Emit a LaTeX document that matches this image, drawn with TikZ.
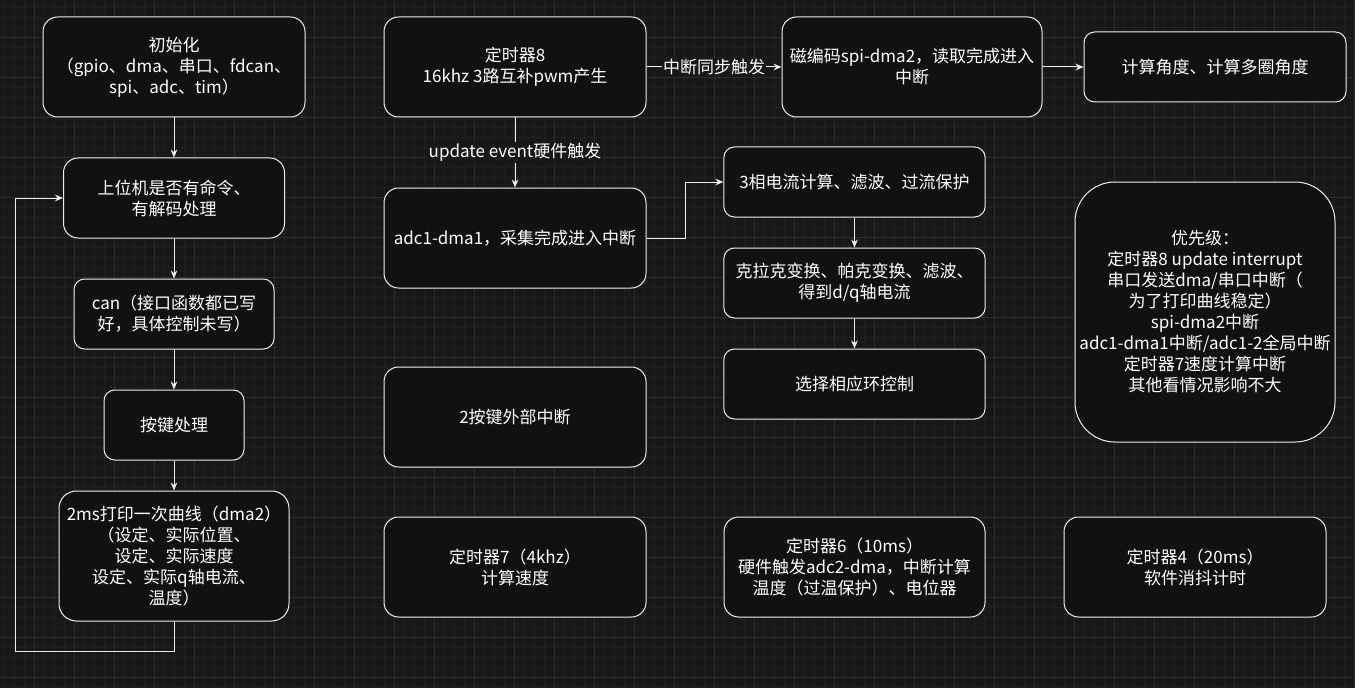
\documentclass[tikz,border=0pt]{standalone}
\usepackage{fontspec}
\setmainfont{Noto Sans CJK SC}
\usetikzlibrary{arrows.meta,positioning}

\definecolor{canvas}{HTML}{181818}
\definecolor{boxbg}{HTML}{111111}
\definecolor{gridmin}{HTML}{1F1F1F}
\definecolor{gridmaj}{HTML}{2D2D2D}
\definecolor{edge}{HTML}{EEEEEE}

\begin{document}
\begin{tikzpicture}[
        x=0.75pt, y=-0.75pt,
        every node/.style = {font=\fontsize{12.75}{15.75}\selectfont, text=white},
        box/.style = {draw=edge, fill=boxbg, line width=0.75pt, rounded corners=11pt, align=center, inner sep=1pt},
        big/.style = {box, minimum width=196.5pt, minimum height=75pt},
        flat/.style = {box, minimum width=196pt, minimum height=52.5pt, rounded corners=8pt},
        arr/.style = {draw=edge, line width=0.75pt, -{Stealth[length=6pt,width=5pt]}},
        lbl/.style = {fill=canvas, inner sep=1pt}
    ]
    % canvas and grid
    \useasboundingbox (0,0) rectangle (1355,688);
    \fill[canvas] (0,0) rectangle (1355,688);
    \foreach \x in {4,14,...,1354} \draw[gridmin, line width=0.5pt] (\x,0) -- (\x,688);
    \foreach \y in {7,17,...,687} \draw[gridmin, line width=0.5pt] (0,\y) -- (1355,\y);
    \foreach \x in {34,74,...,1354} \draw[gridmaj, line width=0.6pt] (\x,0) -- (\x,688);
    \foreach \y in {37,77,...,677} \draw[gridmaj, line width=0.6pt] (0,\y) -- (1355,\y);

    % main loop
    \node[big] (init) at (174,67) {初始化\\（gpio、dma、串口、fdcan、\\spi、adc、tim）};
    \node[box, minimum width=165.75pt, minimum height=60pt, below=30pt of init] (host) {上位机是否有命令、\\有解码处理};
    \node[box, minimum width=150pt, minimum height=52.5pt, rounded corners=8pt, below=30pt of host] (can) {can（接口函数都已写\\好，具体控制未写）};
    \node[box, minimum width=105pt, minimum height=52.5pt, rounded corners=8pt, below=30pt of can] (key) {按键处理};
    \node[box, minimum width=172.5pt, minimum height=97.5pt, rounded corners=13pt, below=22.5pt of key] (curve) {2ms打印一次曲线（dma2）\\（设定、实际位置、\\设定、实际速度\\设定、实际q轴电流、\\温度）};

    % interrupts
    \node[big] (tim8) at (515,67) {定时器8\\16khz 3路互补pwm产生};
    \node[big, below=52.5pt of tim8] (adc) {adc1-dma1，采集完成进入中断};
    \node[big, minimum width=195pt] (enc) at (912,67) {磁编码spi-dma2，读取完成进入\\中断};
    \node[flat, minimum width=196.5pt] (angle) at (1215,67) {计算角度、计算多圈角度};
    \node[flat] (phase) at (854.5,182) {3相电流计算、滤波、过流保护};
    \node[flat, below=22.5pt of phase] (clarke) {克拉克变换、帕克变换、滤波、\\得到d/q轴电流};
    \node[flat, below=22.5pt of clarke] (select) {选择相应环控制};
    \node[box, minimum width=195pt, minimum height=195pt, rounded corners=30pt] (prio) at (1205,312) {优先级：\\定时器8 update interrupt\\串口发送dma/串口中断（\\为了打印曲线稳定）\\spi-dma2中断\\adc1-dma1中断/adc1-2全局中断\\定时器7速度计算中断\\其他看情况影响不大};
    \node[big] (key2) at (515,417) {2按键外部中断};

    % timers
    \node[big] (tim7) at (515,567) {定时器7（4khz）\\计算速度};
    \node[big, minimum width=195.75pt] (tim6) at (854.5,567) {定时器6（10ms）\\硬件触发adc2-dma，中断计算\\温度（过温保护）、电位器};
    \node[big] (tim4) at (1195,567) {定时器4（20ms）\\软件消抖计时};

    % connectors
    \draw[arr] (init) -- (host);
    \draw[arr] (host) -- (can);
    \draw[arr] (can) -- (key);
    \draw[arr] (key) -- (curve);
    \draw[arr] (curve.south) |- ++(-159,30) |- (host.west);

    \draw[arr] (tim8) -- node[lbl] {update event硬件触发} (adc);
    \draw[arr] (tim8) -- node[lbl] {中断同步触发} (enc);
    \draw[arr] (enc) -- (angle);
    \draw[arr] (adc.east) -- ++(39,0) |- (phase.west);
    \draw[arr] (phase) -- (clarke);
    \draw[arr] (clarke) -- (select);

\end{tikzpicture}
\end{document}
